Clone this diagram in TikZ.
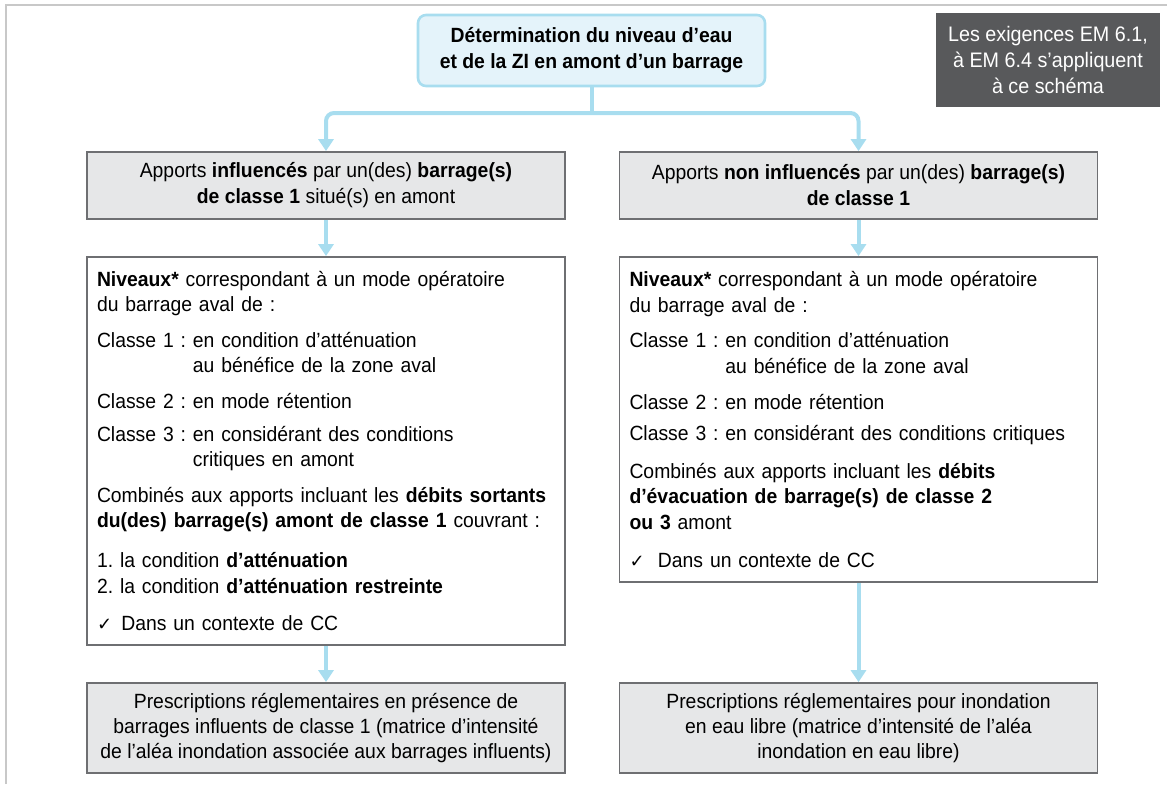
\documentclass[tikz,border=0pt]{standalone}
\usepackage{fontspec}
\setmainfont{Liberation Sans}[FakeStretch=0.94]
\newfontfamily\checkfont{DejaVu Sans}
\usetikzlibrary{arrows.meta}
\frenchspacing

\definecolor{fleuve}{RGB}{168,221,239}
\definecolor{fondtitre}{RGB}{228,243,250}
\definecolor{fondgris}{RGB}{230,231,232}
\definecolor{traitgris}{RGB}{110,111,114}
\definecolor{cadre}{RGB}{200,200,200}
\definecolor{ardoise}{RGB}{88,89,91}

\newcommand{\coche}{{\checkfont\small ✓}\hspace{0.45em}}
\newcommand{\retrait}{\phantom{Classe 1 : }}

\begin{document}
\begin{tikzpicture}[x=0.5pt, y=-0.5pt,
  font=\fontsize{10.3}{12.8}\selectfont,
  flux/.style={draw=fleuve, line width=2pt},
  fleche/.style={flux, -{Triangle[width=7.5pt,length=6pt]}},
  titre/.style={draw=fleuve, line width=1.3pt, fill=fondtitre, rounded corners=4pt,
    minimum width=173.5pt, minimum height=35.5pt, align=center, inner sep=0pt,
    font=\fontsize{10.3}{13}\selectfont\bfseries},
  note/.style={fill=ardoise, text=white, minimum width=112pt, minimum height=47pt,
    align=center, inner sep=0pt, font=\fontsize{10.5}{13.2}\selectfont},
  entete/.style={draw=traitgris, line width=0.9pt, fill=fondgris, minimum width=239pt,
    minimum height=33.5pt, align=center, inner sep=0pt, font=\fontsize{10.3}{13}\selectfont},
  detail/.style={draw=traitgris, line width=0.9pt, fill=white, text width=229pt,
    inner xsep=5pt, inner ysep=0pt, align=left},
  prescription/.style={entete, minimum height=45pt, font=\fontsize{10.3}{12.5}\selectfont}]
 \useasboundingbox (0,0) rectangle (1167,784);
 \draw[cadre, line width=1pt] (6,784) -- (6,5) -- (1167,5);

 \node[titre] (titre) at (591.5,50.5) {Détermination du niveau d’eau\\et de la ZI en amont d’un barrage};
 \node[note] (note) at (1048,60) {Les exigences EM 6.1,\\à EM 6.4 s’appliquent\\à ce schéma};

 % colonne gauche
 \node[entete] (apportsInf) at (326,185.5) {Apports \textbf{influencés} par un(des) \textbf{barrage(s)}\\\textbf{de classe 1} situé(s) en amont};
 \node[detail, minimum height=194pt] (niveauxInf) at (326,451) {\textbf{Niveaux*} correspondant à un mode opératoire\\
  du barrage aval de :\\[5pt]
  Classe 1 : en condition d’atténuation\\
  \retrait au bénéfice de la zone aval\\[5pt]
  Classe 2 : en mode rétention\\[3.5pt]
  Classe 3 : en considérant des conditions\\
  \retrait critiques en amont\\[5pt]
  Combinés aux apports incluant les \textbf{débits sortants}\\
  \textbf{du(des) barrage(s) amont de classe 1} couvrant :\\[7pt]
  1. la condition \textbf{d’atténuation}\\
  2. la condition \textbf{d’atténuation restreinte}\\[6pt]
  \coche Dans un contexte de CC};
 \node[prescription] (prescInf) at (326,728) {Prescriptions réglementaires en présence de\\barrages influents de classe 1 (matrice d’intensité\\de l’aléa inondation associée aux barrages influents)};

 % colonne droite
 \node[entete] (apportsNon) at (858.5,185.5) {Apports \textbf{non influencés} par un(des) \textbf{barrage(s)}\\\textbf{de classe 1}};
 \node[detail, minimum height=162.5pt] (niveauxNon) at (858.5,419.5) {\textbf{Niveaux*} correspondant à un mode opératoire\\
  du barrage aval de :\\[5pt]
  Classe 1 : en condition d’atténuation\\
  \retrait au bénéfice de la zone aval\\[5pt]
  Classe 2 : en mode rétention\\[3pt]
  Classe 3 : en considérant des conditions critiques\\[6pt]
  Combinés aux apports incluant les \textbf{débits}\\
  \textbf{d’évacuation de barrage(s) de classe 2}\\
  \textbf{ou 3} amont\\[6pt]
  \coche\hspace{0.2em}Dans un contexte de CC};
 \node[prescription] (prescNon) at (858.5,728) {Prescriptions réglementaires pour inondation\\en eau libre (matrice d’intensité de l’aléa\\inondation en eau libre)};

 \coordinate (fourche) at (591.5,113);
 \draw[flux] (titre.south) -- (fourche);
 \draw[flux, rounded corners=4pt, {Triangle[width=7.5pt,length=6pt]}-{Triangle[width=7.5pt,length=6pt]}]
   (apportsInf.north) |- (fourche) -| (apportsNon.north);

 \draw[fleche] (apportsInf) -- (niveauxInf);
 \draw[fleche] (niveauxInf) -- (prescInf);
 \draw[fleche] (apportsNon) -- (niveauxNon);
 \draw[fleche] (niveauxNon) -- (prescNon);
\end{tikzpicture}
\end{document}
